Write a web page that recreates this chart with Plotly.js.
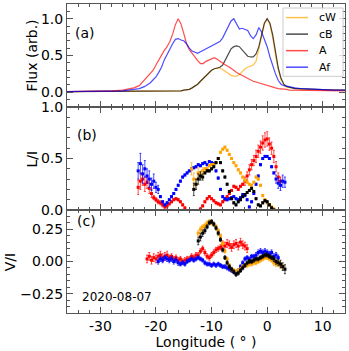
<!DOCTYPE html>
<html>
<head>
<meta charset="utf-8">
<script src="https://cdn.plot.ly/plotly-3.0.1.min.js"></script>
<style>
  html, body { margin: 0; padding: 0; background: #fff; }
  #chart { width: 349px; height: 351px; }
</style>
</head>
<body>
<div id="chart"></div>
<script>
// ---- panel (a): flux profiles ----
const lonA = [-36, -32, -28, -26, -25, -24, -23, -22,
    -21.5, -21, -20.5, -20, -19.5, -19, -18.5, -18, -17.5, -17,
    -16.5, -16, -15.5, -15, -14.5, -14, -13.5, -13, -12.5, -12,
    -11.5, -11, -10.5, -10, -9.5, -9, -8.5, -8, -7.5, -7,
    -6.5, -6, -5.5, -5, -4.5, -4, -3.5, -3, -2.5, -2,
    -1.5, -1, -0.5, 0, 0.5, 1, 1.5, 2, 2.5, 3,
    3.5, 4, 5, 6, 8, 10, 12, 14];

const fluxCW = [.01, .01, .01, .01, .01, .01, .01, .01,
    .01, .01, .01, .01, .01, .01, .02, .02, .02, .02,
    .02, .02, .02, .03, .03, .04, .06, .08, .11, .15,
    .19, .23, .27, .30, .32, .33, .33, .31, .28, .25,
    .23, .22, .22, .24, .28, .32, .34, .35, .37, .42,
    .57, .76, .93, 1.0, .92, .74, .50, .30, .17, .10,
    .07, .06, .05, .04, .04, .03, .03, .03];

const fluxCB = [.01, .01, .01, .01, .01, .01, .01, .01,
    .01, .01, .01, .01, .01, .01, .02, .02, .02, .02,
    .02, .02, .02, .03, .03, .04, .06, .08, .11, .15,
    .19, .23, .27, .30, .32, .33, .34, .37, .45, .53,
    .59, .62, .63, .62, .58, .53, .49, .48, .48, .52,
    .62, .78, .94, 1.0, .94, .78, .55, .33, .19, .11,
    .08, .07, .05, .05, .04, .04, .03, .03];

const fluxA = [.01, .01, .02, .03, .04, .06, .09, .17,
    .21, .25, .30, .37, .44, .51, .57, .62, .69, .79,
    .92, 1.0, .93, .80, .66, .58, .53, .47, .43, .39,
    .39, .42, .44, .46, .47, .45, .42, .39, .37, .35,
    .33, .30, .27, .25, .22, .20, .18, .16, .15, .14,
    .13, .12, .11, .09, .08, .07, .06, .05, .05, .04,
    .04, .03, .03, .03, .02, .02, .02, .02];

const fluxAf = [.01, .01, .02, .02, .03, .04, .05, .08,
    .10, .13, .17, .21, .27, .34, .44, .52, .60, .66,
    .72, .73, .71, .70, .66, .60, .56, .54, .53, .55,
    .57, .58, .60, .62, .64, .66, .69, .74, .82, .90,
    .97, 1.0, .92, .86, .87, .86, .84, .77, .73, .78,
    .88, .82, .72, .62, .48, .36, .25, .16, .11, .09,
    .08, .07, .06, .05, .04, .03, .03, .03];

const legendNames = ['cW', 'cB', 'A', 'Af'];

// ---- panels (b) and (c): common longitude grid ----
const lonGrid = [-23.2, -22.8, -22.4, -22.0, -21.6, -21.2, -20.8, -20.4, -20.0, -19.6,
    -19.2, -18.8, -18.4, -18.0, -17.6, -17.2, -16.8, -16.4, -16.0, -15.6,
    -15.2, -14.8, -14.4, -14.0, -13.6, -13.2, -12.8, -12.4, -12.0, -11.6,
    -11.2, -10.8, -10.4, -10.0, -9.6, -9.2, -8.8, -8.4, -8.0, -7.6,
    -7.2, -6.8, -6.4, -6.0, -5.6, -5.2, -4.8, -4.4, -4.0, -3.6,
    -3.2, -2.8, -2.4, -2.0, -1.6, -1.2, -0.8, -0.4, 0.0, 0.4,
    0.8, 1.2, 1.6, 2.0, 2.4, 2.8, 3.2];

// L/I  (null = no point shown)
const linA_start = -23.2;
const linA = [0.22, 0.28, 0.30, 0.25, 0.27, 0.21, 0.16, 0.12, 0.10, 0.08,
    0.07, 0.05, 0.03, 0.04, 0.06, 0.08, 0.10, 0.11, 0.10, 0.08,
    0.05, 0.02, null, null, null, null, null, null, 0.01, 0.04,
    0.08, 0.11, 0.13, 0.11, 0.09, 0.07, 0.06, 0.05, 0.08, 0.10,
    0.13, 0.16, 0.19, 0.23, 0.22, 0.20, 0.23, 0.25, 0.28, 0.33,
    0.39, 0.44, 0.48, 0.52, 0.57, 0.61, 0.65, 0.68, 0.69, 0.64,
    0.60, 0.52, 0.42, 0.32, 0.28];
const linA_err = [0.07, 0.08, 0.06, 0.07, 0.06, 0.05, 0.04, 0.02, 0.02, 0.02,
    0.02, 0.02, 0.02, 0.02, 0.01, 0.01, 0.01, 0.01, 0.01, 0.01,
    0.01, 0.01, 0.01, 0.01, 0.01, 0.01, 0.01, 0.01, 0.01, 0.01,
    0.01, 0.01, 0.01, 0.01, 0.01, 0.01, 0.01, 0.01, 0.01, 0.01,
    0.01, 0.01, 0.01, 0.01, 0.01, 0.01, 0.01, 0.01, 0.04, 0.04,
    0.05, 0.05, 0.05, 0.06, 0.06, 0.06, 0.07, 0.07, 0.07, 0.06,
    0.06, 0.06, 0.05, 0.04, 0.04];

const linAf_start = -23.2;
const linAf = [0.38, 0.45, 0.35, 0.40, 0.33, 0.30, 0.25, 0.28, 0.22, 0.20,
    0.13, 0.08, 0.05, 0.07, 0.10, 0.13, 0.16, 0.20, 0.24, 0.28,
    0.32, 0.34, 0.36, 0.38, 0.40, 0.41, 0.42, 0.44, 0.43, 0.45,
    0.46, 0.44, 0.47, 0.46, 0.45, 0.38, 0.31, 0.20, 0.13, 0.11,
    0.10, 0.11, 0.12, 0.13, 0.11, 0.10, 0.12, 0.15, 0.14, 0.10,
    0.03, 0.08, 0.16, 0.25, 0.33, 0.44, 0.50, 0.52, 0.52, 0.50,
    0.42, 0.36, 0.30, 0.26, 0.24, 0.28, 0.27];
const linAf_err = [0.08, 0.10, 0.09, 0.08, 0.07, 0.08, 0.06, 0.07, 0.05, 0.04,
    0.01, 0.01, 0.01, 0.01, 0.01, 0.01, 0.01, 0.01, 0.01, 0.01,
    0.01, 0.01, 0.01, 0.01, 0.01, 0.01, 0.01, 0.01, 0.01, 0.01,
    0.01, 0.01, 0.01, 0.01, 0.01, 0.01, 0.01, 0.01, 0.01, 0.01,
    0.01, 0.01, 0.01, 0.01, 0.01, 0.01, 0.01, 0.01, 0.01, 0.01,
    0.01, 0.01, 0.01, 0.01, 0.01, 0.01, 0.01, 0.01, 0.01, 0.01,
    0.01, 0.01, 0.04, 0.05, 0.05, 0.06, 0.05];

const linCW_start = -13.6;
const linCW = [0.40, 0.30, 0.25, 0.36, 0.34, 0.38, 0.40, 0.40, 0.43, 0.44,
    0.44, 0.46, 0.50, 0.56, 0.59, 0.61, 0.58, 0.54, 0.50, 0.46,
    0.43, 0.39, 0.36, 0.32, 0.29, 0.27, 0.25, 0.24, 0.27, 0.32,
    0.30, 0.24, 0.14, 0.10, 0.07, 0.05, 0.03, 0.01];
const linCW_err = [0.06, 0.06, 0.05, 0.05, 0.04, 0.03, 0.01, 0.01, 0.01, 0.01,
    0.01, 0.01, 0.01, 0.01, 0.01, 0.01, 0.01, 0.01, 0.01, 0.01,
    0.01, 0.01, 0.01, 0.01, 0.01, 0.01, 0.01, 0.01, 0.01, 0.01,
    0.01, 0.01, 0.01, 0.01, 0.01, 0.01, 0.01, 0.01];

const linCB_start = -13.2;
const linCB = [0.20, 0.25, 0.30, 0.33, 0.32, 0.36, 0.38, 0.38, 0.40, 0.42,
    0.46, 0.50, 0.46, 0.38, 0.32, 0.25, 0.18, 0.11, 0.07, 0.05,
    0.08, 0.10, 0.13, 0.15, 0.17, 0.19, 0.21, 0.18, 0.11, 0.05,
    0.04, 0.07, 0.09, 0.08, 0.05, 0.02, 0.0];
const linCB_err = [0.06, 0.05, 0.05, 0.04, 0.03, 0.01, 0.01, 0.01, 0.01, 0.01,
    0.01, 0.01, 0.01, 0.01, 0.01, 0.01, 0.01, 0.01, 0.01, 0.01,
    0.01, 0.01, 0.01, 0.01, 0.01, 0.01, 0.01, 0.01, 0.01, 0.01,
    0.01, 0.01, 0.01, 0.01, 0.01, 0.01, 0.01];

// V/I
const circA_start = -21.6;
const circA = [0.02, 0.04, 0.01, 0.03, 0.02, 0.04, 0.05, 0.03, 0.04, 0.05,
    0.03, 0.04, 0.02, 0.03, 0.01, 0.02, 0.00, 0.01, 0.02, 0.02,
    0.04, 0.03, 0.05, 0.05, 0.08, 0.10, 0.07, 0.04, 0.03, 0.05,
    0.07, 0.09, 0.10, 0.11, 0.13, 0.12, 0.14, 0.13, 0.11, 0.13,
    0.14, 0.12, 0.15, 0.13, 0.12, 0.10];
const circA_err = [0.03, 0.03, 0.03, 0.03, 0.03, 0.03, 0.03, 0.03, 0.03, 0.03,
    0.02, 0.02, 0.02, 0.02, 0.02, 0.02, 0.02, 0.02, 0.02, 0.02,
    0.02, 0.02, 0.02, 0.02, 0.02, 0.02, 0.02, 0.02, 0.02, 0.02,
    0.02, 0.02, 0.02, 0.02, 0.03, 0.03, 0.03, 0.03, 0.03, 0.03,
    0.03, 0.03, 0.03, 0.03, 0.03, 0.03];

const circAf_start = -19.6;
const circAf = [0.00, 0.02, 0.01, 0.03, 0.02, 0.01, 0.02, 0.00, 0.01, -0.01,
    -0.02, -0.01, -0.02, 0.00, 0.01, 0.02, 0.01, 0.02, 0.03, 0.02,
    0.01, -0.01, -0.02, -0.02, -0.03, -0.02, -0.03, -0.02, -0.03, -0.04,
    -0.04, -0.05, -0.06, -0.07, -0.08, -0.09, -0.07, -0.04, -0.01, 0.02,
    0.03, 0.02, 0.04, 0.04, 0.05, 0.07, 0.08, 0.07, 0.08, 0.07,
    0.06, 0.07, 0.04, 0.05, 0.03];
const circAf_err = [0.02, 0.02, 0.02, 0.02, 0.02, 0.02, 0.02, 0.02, 0.02, 0.02,
    0.015, 0.015, 0.015, 0.015, 0.015, 0.015, 0.015, 0.015, 0.015, 0.015,
    0.015, 0.015, 0.015, 0.015, 0.015, 0.015, 0.015, 0.015, 0.015, 0.015,
    0.015, 0.015, 0.015, 0.015, 0.015, 0.015, 0.015, 0.015, 0.015, 0.015,
    0.015, 0.015, 0.015, 0.015, 0.02, 0.02, 0.02, 0.02, 0.02, 0.02,
    0.02, 0.02, 0.02, 0.02, 0.02];

const circCW_start = -12.4;
const circCW = [0.22, 0.25, 0.27, 0.28, 0.30, 0.31, 0.30, 0.29, 0.27, 0.24,
    0.20, 0.14, 0.08, 0.02, -0.03, -0.06, -0.07, -0.08, -0.07, -0.06,
    -0.04, -0.03, -0.03, -0.02, -0.02, -0.01, -0.01, 0.00, 0.01, 0.02,
    0.03, 0.03, 0.02, 0.01, -0.01, -0.02, -0.01, -0.03, -0.04];
const circCW_err = [0.02, 0.02, 0.015, 0.015, 0.015, 0.015, 0.015, 0.015, 0.015, 0.015,
    0.015, 0.015, 0.015, 0.015, 0.015, 0.015, 0.015, 0.015, 0.015, 0.015,
    0.015, 0.015, 0.015, 0.015, 0.015, 0.015, 0.015, 0.015, 0.015, 0.015,
    0.015, 0.015, 0.015, 0.015, 0.02, 0.02, 0.02, 0.02, 0.02];

const circCB_start = -12.4;
const circCB = [0.16, 0.19, 0.22, 0.24, 0.27, 0.30, 0.31, 0.29, 0.26, 0.22,
    0.17, 0.09, 0.03, -0.01, -0.04, -0.06, -0.08, -0.10, -0.09, -0.07,
    -0.05, -0.03, -0.01, 0.00, 0.00, 0.01, 0.02, 0.02, 0.03, 0.04,
    0.05, 0.05, 0.04, 0.03, 0.02, 0.00, -0.01, -0.02, -0.04, -0.06];
const circCB_err = [0.03, 0.03, 0.025, 0.02, 0.015, 0.015, 0.015, 0.015, 0.015, 0.015,
    0.015, 0.015, 0.015, 0.015, 0.015, 0.015, 0.015, 0.015, 0.015, 0.015,
    0.015, 0.015, 0.015, 0.015, 0.015, 0.015, 0.015, 0.015, 0.015, 0.015,
    0.015, 0.015, 0.015, 0.015, 0.02, 0.02, 0.025, 0.03, 0.03, 0.035];

const colors = { cW: '#ffa500', cB: '#000000', A: '#ff0000', Af: '#0000ff' };
const FONT = 'DejaVu Sans, Liberation Sans, sans-serif';

// longitudes of a series that starts at `start` on the shared grid
function lonsFor(start, vals) {
    const i0 = lonGrid.findIndex(v => Math.abs(v - start) < 1e-6);
    return lonGrid.slice(i0, i0 + vals.length);
}

function fluxTrace(name, y) {
    return {
        x: lonA, y: y, name: name, type: 'scatter', mode: 'lines',
        line: { color: colors[name], width: 1.2 },
        opacity: 0.7, showlegend: false, xaxis: 'x', yaxis: 'y',
    };
}

function pointTrace(key, start, vals, errs, axis) {
    return {
        x: lonsFor(start, vals), y: vals,
        type: 'scatter', mode: 'markers', showlegend: false,
        marker: { color: colors[key], size: 3, symbol: 'square' },
        error_y: { type: 'data', array: errs, visible: true, color: colors[key], thickness: 0.7, width: 1 },
        xaxis: 'x' + axis, yaxis: 'y' + axis,
    };
}

const traces = [
    fluxTrace('cW', fluxCW),
    fluxTrace('cB', fluxCB),
    fluxTrace('A', fluxA),
    fluxTrace('Af', fluxAf),
    pointTrace('A', linA_start, linA, linA_err, '2'),
    pointTrace('Af', linAf_start, linAf, linAf_err, '2'),
    pointTrace('cW', linCW_start, linCW, linCW_err, '2'),
    pointTrace('cB', linCB_start, linCB, linCB_err, '2'),
    pointTrace('A', circA_start, circA, circA_err, '3'),
    pointTrace('Af', circAf_start, circAf, circAf_err, '3'),
    pointTrace('cW', circCW_start, circCW, circCW_err, '3'),
    pointTrace('cB', circCB_start, circCB, circCB_err, '3'),
];

const frame = {
    showline: true, linecolor: '#555', linewidth: 1, mirror: 'allticks',
    ticks: 'inside', ticklen: 6, tickcolor: '#555', tickwidth: 1,
    showgrid: false, zeroline: false,
    tickfont: { family: FONT, size: 14, color: '#000' },
};

function xAxis(anchor, labels) {
    return Object.assign({}, frame, {
        anchor: anchor, range: [-36, 14], domain: [0, 1],
        tickvals: [-30, -20, -10, 0, 10],
        ticktext: ['-30', '-20', '-10', '0', '10'],
        showticklabels: labels,
        minor: { dtick: 2, ticks: 'inside', ticklen: 3, tickcolor: '#555' },
    });
}

function yAxis(anchor, domain, range, dtick, minor, fmt) {
    return Object.assign({}, frame, {
        anchor: anchor, domain: domain, range: range,
        tick0: 0, dtick: dtick, tickformat: fmt,
        minor: { dtick: minor, ticks: 'inside', ticklen: 3, tickcolor: '#555' },
    });
}

function note(text, x, y, size, angle) {
    return {
        text: text, x: x, y: y, xref: 'paper', yref: 'paper',
        xanchor: angle ? 'center' : 'left', yanchor: 'middle', showarrow: false,
        textangle: angle || 0, font: { family: FONT, size: size, color: '#000' },
    };
}

// hand-drawn legend box (matplotlib-like compact spacing)
const legendTop = 0.956, legendStep = 0.0535;
const shapes = [{
    type: 'rect', xref: 'paper', yref: 'paper',
    x0: 0.777, x1: 0.993, y0: 0.766, y1: 0.987,
    line: { color: '#cccccc', width: 1 }, fillcolor: 'rgba(255,255,255,0.8)',
}];
const annotations = [
    note('(a)', 0.022, 0.906, 14),
    note('(b)', 0.029, 0.576, 14),
    note('(c)', 0.029, 0.298, 14),
    note('2020-08-07', 0.047, 0.052, 12),
    note('Flux (arb.)', -0.126, 0.833, 14, -90),
    note('L/I', -0.126, 0.5, 14, -90),
    note('V/I', -0.205, 0.164, 14, -90),
];
legendNames.forEach((name, i) => {
    const y = legendTop - i * legendStep;
    shapes.push({
        type: 'line', xref: 'paper', yref: 'paper',
        x0: 0.788, x1: 0.867, y0: y, y1: y,
        line: { color: colors[name], width: 1.5 }, opacity: 0.7,
    });
    annotations.push(note(name, 0.9, y, 11));
});

const layout = {
    width: 349, height: 351,
    margin: { l: 67, r: 4, t: 4, b: 38 },
    paper_bgcolor: '#fff', plot_bgcolor: '#fff',
    font: { family: FONT, color: '#000' },
    showlegend: false,
    xaxis: xAxis('y', false),
    yaxis: yAxis('x', [0.6667, 1], [-0.2, 1.2], 0.5, 0.1, '.1f'),
    xaxis2: xAxis('y2', false),
    yaxis2: yAxis('x2', [0.3333, 0.6667], [0, 1.0], 0.5, 0.1, '.1f'),
    xaxis3: Object.assign(xAxis('y3', true), {
        title: { text: 'Longitude ( ° )', font: { family: FONT, size: 14, color: '#000' }, standoff: 2 },
    }),
    yaxis3: yAxis('x3', [0, 0.3333], [-0.4, 0.4], 0.25, 0.05, '.2f'),
    shapes: shapes,
    annotations: annotations,
};

Plotly.newPlot('chart', traces, layout, { staticPlot: true, displayModeBar: false });
</script>
</body>
</html>
